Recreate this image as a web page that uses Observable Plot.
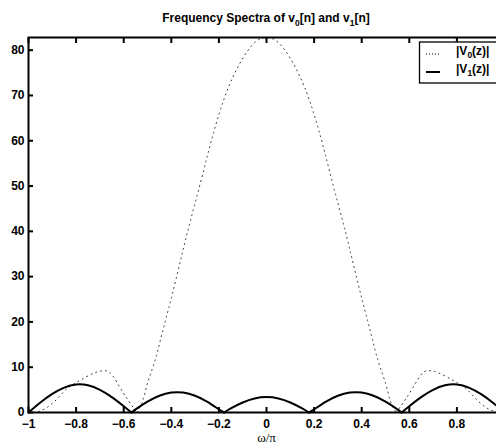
<!DOCTYPE html>
<html><head><meta charset="utf-8">
<script src="https://cdn.jsdelivr.net/npm/d3@7"></script>
<script src="https://cdn.jsdelivr.net/npm/@observablehq/plot@0.6"></script>
<style>
html,body{margin:0;padding:0;background:#fff;overflow:hidden}
</style></head><body><div id="chart"></div>
<script>
// |V0(z)| (dotted)
const omega0 = [-1, -0.96, -0.92, -0.88, -0.84, -0.8, -0.76, -0.72, -0.69, -0.66, -0.63, -0.6, -0.58, -0.56, -0.545, -0.52, -0.5, -0.47, -0.44, -0.41, -0.38, -0.35, -0.32, -0.28, -0.24, -0.2, -0.16, -0.12, -0.08, -0.04, 0,
  0.04, 0.08, 0.12, 0.16, 0.2, 0.24, 0.28, 0.32, 0.35, 0.38, 0.41, 0.44, 0.47, 0.5, 0.52, 0.545, 0.56, 0.58, 0.6, 0.63, 0.66, 0.69, 0.72, 0.76, 0.8, 0.84, 0.88, 0.92, 0.96, 1];
const mag0 = [0, 0.2, 1.2, 3.0, 5.2, 6.6, 7.8, 8.8, 9.2, 8.9, 6.8, 4.2, 2.6, 1.1, 0, 2.6, 6.5, 11.2, 17.2, 23.2, 29.5, 36, 42.3, 50.2, 58.4, 65.8, 71.8, 76.3, 79.8, 82.1, 82.8,
  82.1, 79.8, 76.3, 71.8, 65.8, 58.4, 50.2, 42.3, 36, 29.5, 23.2, 17.2, 11.2, 6.5, 2.6, 0, 1.1, 2.6, 4.2, 6.8, 8.9, 9.2, 8.8, 7.8, 6.6, 5.2, 3.0, 1.2, 0.2, 0];

// |V1(z)| (solid)
const omega1 = [-1, -0.95, -0.9, -0.85, -0.8, -0.75, -0.7, -0.65, -0.6, -0.567, -0.55, -0.5, -0.45, -0.4, -0.35, -0.3, -0.25, -0.2, -0.178, -0.15, -0.1, -0.05, 0,
  0.05, 0.1, 0.15, 0.178, 0.2, 0.25, 0.3, 0.35, 0.4, 0.45, 0.5, 0.55, 0.567, 0.6, 0.65, 0.7, 0.75, 0.8, 0.85, 0.9, 0.95, 1];
const mag1 = [0, 2.2, 4.1, 5.5, 6.2, 6.0, 5.0, 3.4, 1.4, 0, 0.7, 2.4, 3.7, 4.4, 4.4, 3.7, 2.4, 0.7, 0, 0.9, 2.2, 3.1, 3.4,
  3.1, 2.2, 0.9, 0, 0.7, 2.4, 3.7, 4.4, 4.4, 3.7, 2.4, 0.7, 0, 1.4, 3.4, 5.0, 6.0, 6.2, 5.5, 4.1, 2.2, 0];

const xTicks = [-1, -0.8, -0.6, -0.4, -0.2, 0, 0.2, 0.4, 0.6, 0.8, 1];
const xTickLabels = [-1, -0.8, -0.6, -0.4, -0.2, 0, 0.2, 0.4, 0.6, 0.8];
const yTicks = [0, 10, 20, 30, 40, 50, 60, 70, 80];
const xLabel = "ω/π";
const titleParts = [["Frequency Spectra of v", false], ["0", true], ["[n] and v", false], ["1", true], ["[n]", false]];
const legendItems = [
  {parts: [["|V", false], ["0", true], ["(z)|", false]], dash: "1 2", width: 1},
  {parts: [["|V", false], ["1", true], ["(z)|", false]], dash: null, width: 2}
];

// split each series into arches at its zeros so cusps stay sharp
function segments(xs, ys, name) {
  const rows = []; let seg = 0;
  xs.forEach((x, i) => {
    rows.push({omega: x, mag: ys[i], seg: name + seg});
    if (ys[i] === 0 && i > 0 && i < xs.length - 1) { seg++; rows.push({omega: x, mag: ys[i], seg: name + seg}); }
  });
  return rows;
}
const rows0 = segments(omega0, mag0, "a");
const rows1 = segments(omega1, mag1, "b");

const font = "'Liberation Sans', Arial, Helvetica, sans-serif";
const fmt = d => String(d).replace("-", "\u2212");

const chart = Plot.plot({
  width: 496, height: 448,
  marginLeft: 28, marginRight: -8, marginTop: 37, marginBottom: 36,
  style: {fontFamily: font, fontSize: "12px", fontWeight: "bold", background: "white", color: "black"},
  x: {domain: [-1, 1]},
  y: {domain: [0, d3.max(mag0)]},
  marks: [
    Plot.line(rows0, {x: "omega", y: "mag", z: "seg", curve: "natural", stroke: "#333", strokeWidth: 1, strokeDasharray: "1 4"}),
    Plot.line(rows1, {x: "omega", y: "mag", z: "seg", curve: "natural", stroke: "black", strokeWidth: 2}),
    Plot.frame({stroke: "black", strokeWidth: 2}),
    Plot.axisX({ticks: xTicks, anchor: "bottom", tickSize: 5, dy: -5, fill: "none", label: null, strokeWidth: 2}),
    Plot.axisX({ticks: xTicks, anchor: "top", tickSize: 5, dy: 5, fill: "none", label: null, strokeWidth: 2}),
    Plot.axisY({ticks: yTicks, anchor: "left", tickSize: 5, dx: 5, fill: "none", label: null, strokeWidth: 2}),
    Plot.axisX({ticks: xTickLabels, anchor: "bottom", tickSize: 0, tickPadding: 7, label: null, tickFormat: fmt}),
    Plot.axisY({ticks: yTicks, anchor: "left", tickSize: 0, tickPadding: 4, label: null, tickFormat: fmt}),
    Plot.text([xLabel], {frameAnchor: "bottom", lineAnchor: "middle", dy: 25, fontFamily: "'Liberation Serif', 'Times New Roman', serif", fontWeight: "normal", fontSize: 13})
  ]
});
document.getElementById("chart").appendChild(chart);

const svg = d3.select(chart);
const xs = chart.scale("x");
function richText(sel, parts, size, subSize) {
  parts.forEach(([t, sub], i) => {
    const prevSub = i > 0 && parts[i - 1][1];
    const ts = sel.append("tspan").text(t).attr("font-size", sub ? subSize : size);
    if (sub) ts.attr("dy", 3.5); else if (prevSub) ts.attr("dy", -3.5);
  });
}
const title = svg.append("text")
  .attr("x", xs.apply(0)).attr("y", 22).attr("text-anchor", "middle")
  .attr("font-family", font).attr("font-weight", "bold").attr("fill", "black");
richText(title, titleParts, 12, 8.5);

const lg = svg.append("g");
lg.append("rect").attr("x", 419.5).attr("y", 42).attr("width", 110).attr("height", 41)
  .attr("fill", "white").attr("stroke", "black").attr("stroke-width", 1.3);
legendItems.forEach((d, i) => {
  const y = 54 + i * 18;
  lg.append("line").attr("x1", 426).attr("x2", 440).attr("y1", y).attr("y2", y)
    .attr("stroke", "black").attr("stroke-width", d.width).attr("stroke-dasharray", d.dash);
  const t = lg.append("text").attr("x", 456).attr("y", y + 0.5).attr("text-anchor", "start")
    .attr("font-family", font).attr("font-weight", "bold").attr("fill", "black");
  richText(t, d.parts, 12, 8.5);
});
</script>
</body></html>
